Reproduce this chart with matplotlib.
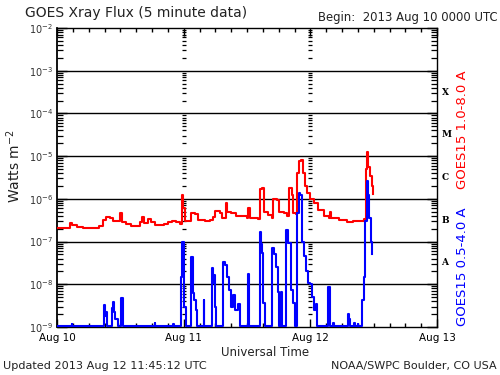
import numpy as np
import matplotlib
matplotlib.use("Agg")
import matplotlib.pyplot as plt
from matplotlib.ticker import FixedLocator, NullFormatter

# ---- data (hours since 2013 Aug 10 00:00 UTC, flux in W m^-2) ----
red_hours = [0.0, 2.0, 2.4, 2.9, 3.8, 5.0, 7.6, 8.0, 8.8, 9.3, 10.0, 10.6, 11.4, 12.0, 12.3,
             13.0, 14.0, 15.3, 15.8, 16.1, 16.5, 17.3, 17.9, 18.6, 19.5, 20.3, 21.0, 21.8,
             22.5, 23.3, 23.7, 23.9, 24.3, 25.0, 25.3, 26.2, 26.8, 28.0, 29.0, 29.6, 30.0,
             30.8, 31.2, 32.0, 32.3, 33.0, 34.0, 36.0, 36.2, 36.6, 38.0, 38.4, 38.9, 39.2,
             40.0, 40.8, 41.0, 41.6, 42.0, 43.0, 43.6, 43.9, 44.5, 44.8, 45.3, 45.5, 45.8,
             46.2, 46.6, 46.9, 47.3, 48.0, 48.6, 49.4, 50.5, 51.5, 51.7, 52.0, 53.5, 55.0,
             56.0, 57.5, 58.2, 58.4, 58.6, 58.8, 59.0, 59.3, 59.6, 59.8]
red_flux = [2.1e-7, 2.1e-7, 2.7e-7, 2.4e-7, 2.2e-7, 2.1e-7, 2.1e-7, 2.3e-7, 3.2e-7, 3.8e-7,
            3.6e-7, 3.1e-7, 3.0e-7, 4.6e-7, 2.9e-7, 2.6e-7, 2.3e-7, 2.3e-7, 2.9e-7, 3.8e-7,
            2.7e-7, 3.3e-7, 2.9e-7, 2.5e-7, 2.4e-7, 2.6e-7, 2.9e-7, 3.0e-7, 2.8e-7, 2.6e-7,
            1.2e-6, 6.0e-7, 3.0e-7, 3.0e-7, 4.6e-7, 4.4e-7, 3.2e-7, 3.0e-7, 3.2e-7, 3.8e-7,
            5.3e-7, 4.6e-7, 3.5e-7, 8.0e-7, 4.9e-7, 4.6e-7, 4.0e-7, 3.5e-7, 6.2e-7, 3.6e-7,
            3.4e-7, 1.7e-6, 1.8e-6, 4.9e-7, 4.2e-7, 3.6e-7, 1.0e-6, 9.5e-7, 5.0e-7, 4.6e-7,
            4.0e-7, 1.8e-6, 1.2e-6, 4.7e-7, 4.5e-7, 4.0e-6, 7.5e-6, 8.0e-6, 4.0e-6, 2.0e-6,
            1.4e-6, 1.0e-6, 8.0e-7, 5.5e-7, 4.0e-7, 3.5e-7, 4.8e-7, 3.6e-7, 3.2e-7, 2.9e-7,
            3.0e-7, 3.1e-7, 3.3e-7, 3.4e-7, 5.0e-6, 1.25e-5, 5.5e-6, 3.5e-6, 2.0e-6, 1.3e-6]

blue_hours = [0.0, 2.7, 2.8, 2.9, 8.8, 8.9, 9.1, 9.3, 9.5, 10.3, 10.4, 10.6, 10.8, 11.0, 11.3,
              11.5, 12.0, 12.1, 12.4, 12.5, 18.4, 18.5, 18.6, 21.9, 22.0, 22.1, 23.3, 23.4,
              23.6, 23.9, 24.1, 24.3, 24.4, 25.1, 25.3, 25.5, 25.7, 26.0, 26.3, 26.6, 27.6,
              27.8, 27.9, 29.2, 29.4, 29.6, 29.8, 30.0, 30.2, 31.3, 31.5, 31.9, 32.2, 32.6,
              33.0, 33.3, 33.8, 34.3, 34.6, 36.0, 36.2, 36.4, 38.2, 38.4, 38.7, 38.9, 39.1,
              39.4, 40.6, 40.8, 41.1, 41.4, 41.8, 42.0, 42.5, 42.7, 43.3, 43.4, 43.7, 44.0,
              44.3, 44.7, 45.0, 45.2, 45.4, 45.8, 46.1, 46.4, 46.8, 47.2, 47.6, 48.0, 48.4,
              48.7, 49.0, 49.2, 51.2, 51.4, 51.7, 51.8, 52.3, 52.4, 55.1, 55.2, 55.4, 55.5,
              56.3, 56.4, 57.0, 57.1, 57.7, 57.8, 58.1, 58.4, 58.7, 58.9, 59.2, 59.5, 59.7]
blue_flux = [1.05e-9, 1.05e-9, 1.2e-9, 1.05e-9, 1.05e-9, 3.3e-9, 1.8e-9, 2.2e-9, 1.05e-9,
             1.05e-9, 2.8e-9, 3.8e-9, 2.2e-9, 1.5e-9, 1.5e-9, 1.05e-9, 1.05e-9, 4.8e-9,
             4.8e-9, 1.05e-9, 1.05e-9, 1.24e-9, 1.05e-9, 1.05e-9, 1.17e-9, 1.05e-9, 1.05e-9,
             1.5e-8, 9.8e-8, 1.0e-7, 3.0e-9, 3.0e-9, 1.05e-9, 1.05e-9, 4.3e-8, 4.3e-8, 6.2e-9,
             4.3e-9, 2.5e-9, 1.05e-9, 1.05e-9, 4.3e-9, 1.05e-9, 1.05e-9, 2.4e-8, 1.1e-8,
             1.65e-8, 3.0e-9, 1.05e-9, 1.05e-9, 3.3e-8, 2.8e-8, 1.5e-8, 7.3e-9, 3.0e-9, 5.6e-9,
             2.5e-9, 3.5e-9, 1.05e-9, 1.05e-9, 1.74e-8, 1.05e-9, 1.05e-9, 1.67e-7, 9.0e-8,
             5.4e-8, 3.6e-9, 1.05e-9, 1.05e-9, 7.1e-8, 5.0e-8, 2.5e-8, 6.6e-9, 1.05e-9, 6.6e-9,
             1.05e-9, 1.05e-9, 1.86e-7, 9.2e-8, 9.2e-8, 7.3e-9, 3.6e-9, 1.05e-9, 1.05e-9,
             4.7e-7, 1.37e-6, 1.2e-6, 1.0e-7, 4.5e-8, 2.0e-8, 1.1e-8, 1.0e-8, 5.0e-9, 2.5e-9,
             3.5e-9, 1.05e-9, 1.05e-9, 8.6e-9, 8.6e-9, 1.05e-9, 1.24e-9, 1.05e-9, 1.05e-9,
             2.0e-9, 1.5e-9, 1.05e-9, 1.24e-9, 1.05e-9, 1.2e-9, 1.05e-9, 1.05e-9, 4.3e-9,
             1.5e-8, 3.0e-7, 2.6e-6, 1.2e-6, 3.6e-7, 1.0e-7, 5.0e-8]

day_ticks = [0, 24, 48, 72]
day_labels = ["Aug 10", "Aug 11", "Aug 12", "Aug 13"]
class_letters = ["A", "B", "C", "M", "X"]
class_lower = [1e-8, 1e-7, 1e-6, 1e-5, 1e-4]

# ---- figure ----
W, H = 500, 375
fig = plt.figure(figsize=(5, 3.75), dpi=100)
fig.patch.set_facecolor("white")
ax = fig.add_axes([57 / W, 1 - 327 / H, 380 / W, 299 / H])
ax.set_yscale("log")
ax.set_xlim(0, 72)
ax.set_ylim(1e-9, 1e-2)

decades = [10.0 ** e for e in range(-8, -2)]
for d in decades:
    ax.axhline(d, color="black", lw=1.0, zorder=1)

ax.plot(red_hours, red_flux, color="#ff0000", lw=1.5, drawstyle="steps-post", zorder=3)
ax.plot(blue_hours, blue_flux, color="#0000ff", lw=1.5, drawstyle="steps-post", zorder=3)

# tick marks along day boundaries
minor_vals = [m * 10.0 ** e for e in range(-9, -2) for m in range(2, 10)]
for d in day_ticks[1:3]:
    ax.plot([d] * len(minor_vals), minor_vals, ls="none", marker="_", ms=3.5, mew=0.9,
            color="black", zorder=2, clip_on=True)

ax.set_xticks(day_ticks)
ax.set_xticklabels(day_labels, fontsize=7.5)
ax.set_xticks(np.arange(0, 73, 3), minor=True)
ax.tick_params(axis="x", which="major", direction="in", length=6, width=1, top=True,
               bottom=True, pad=4)
ax.tick_params(axis="x", which="minor", direction="in", length=3, width=1, top=True,
               bottom=True)
major_vals = [10.0 ** e for e in range(-9, -1)]
ax.yaxis.set_major_locator(FixedLocator(major_vals))
ax.yaxis.set_minor_locator(FixedLocator(minor_vals))
ax.yaxis.set_minor_formatter(NullFormatter())
ax.tick_params(axis="y", which="major", direction="in", length=7, width=1, left=True,
               right=True, labelsize=7, pad=3, labelcolor="#333333")
ax.tick_params(axis="y", which="minor", direction="in", length=4, width=0.9, left=True,
               right=True)
for s in ax.spines.values():
    s.set_color("black")
    s.set_linewidth(1.0)
ax.spines["left"].set_linewidth(1.3)

# flare class letters on the right
for letter, lo in zip(class_letters, class_lower):
    ax.text(1.012, np.sqrt(lo * lo * 10), letter, transform=ax.get_yaxis_transform(),
            ha="left", va="center", fontsize=6.5, fontweight="bold",
            family="DejaVu Serif", color="black")


def ftext(x, y, s, **kw):
    fig.text(x / W, 1 - y / H, s, **kw)


ftext(25, 13, "GOES Xray Flux (5 minute data)", fontsize=10, ha="left", va="center",
      color="#222222")
ftext(318, 18, "Begin:  2013 Aug 10 0000 UTC", fontsize=8.4, ha="left", va="center",
      color="#222222")
ftext(14, 166, "Watts m$^{-2}$", fontsize=10, rotation=90, ha="center", va="center",
      color="#222222")
ftext(265, 352, "Universal Time", fontsize=8.5, ha="center", va="center", color="#222222")
ftext(3, 366, "Updated 2013 Aug 12 11:45:12 UTC", fontsize=8.1, ha="left", va="center",
      color="#222222")
ftext(497, 366, "NOAA/SWPC Boulder, CO USA", fontsize=8.0, ha="right", va="center",
      color="#222222")
ftext(462, 130, "GOES15 1.0-8.0 A", fontsize=9.5, rotation=90, ha="center", va="center",
      color="#ff0000")
ftext(462, 267, "GOES15 0.5-4.0 A", fontsize=9.5, rotation=90, ha="center", va="center",
      color="#0000ff")

fig.savefig("out.png", dpi=100, facecolor="white")
